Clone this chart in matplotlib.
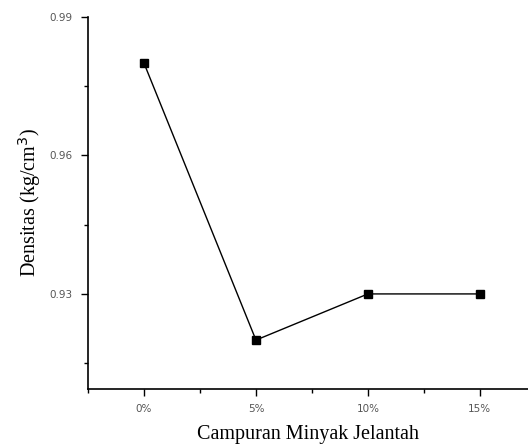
import matplotlib
matplotlib.use("Agg")
import matplotlib.pyplot as plt
from matplotlib.ticker import MultipleLocator

categories = ["0%", "5%", "10%", "15%"]
densitas = [0.98, 0.92, 0.93, 0.93]
yticks = [0.93, 0.96, 0.99]
ytick_labels = ["0.93", "0.96", "0.99"]

fig = plt.figure(figsize=(5.28, 4.46), dpi=100)
ax = fig.add_axes([0.1667, 0.1278, 0.8333, 0.8341])
x = list(range(len(categories)))
ax.plot(x, densitas, color="black", linewidth=1, marker="s", markersize=6,
        markerfacecolor="black", markeredgecolor="black")

ax.set_xlim(-0.5, 3.43)
ax.set_ylim(0.9094, 0.99)
ax.set_xticks(x)
ax.set_xticklabels(categories)
ax.set_yticks(yticks)
ax.set_yticklabels(ytick_labels)
ax.xaxis.set_minor_locator(MultipleLocator(0.5))
ax.yaxis.set_minor_locator(MultipleLocator(0.015))

for s in ["top", "right"]:
    ax.spines[s].set_visible(False)
for s in ["left", "bottom"]:
    ax.spines[s].set_linewidth(1.2)

ax.tick_params(axis="both", which="major", direction="out", length=5, width=1,
               labelsize=7.5, labelcolor="#555555", pad=6)
ax.tick_params(axis="both", which="minor", direction="out", length=3, width=1)

ax.set_xlabel("Campuran Minyak Jelantah", family="Liberation Serif", fontsize=14.5, labelpad=8)
ax.set_ylabel("Densitas (kg/cm$^3$)", family="Liberation Serif", fontsize=14.5, labelpad=5)

fig.savefig("out.png", dpi=100)
